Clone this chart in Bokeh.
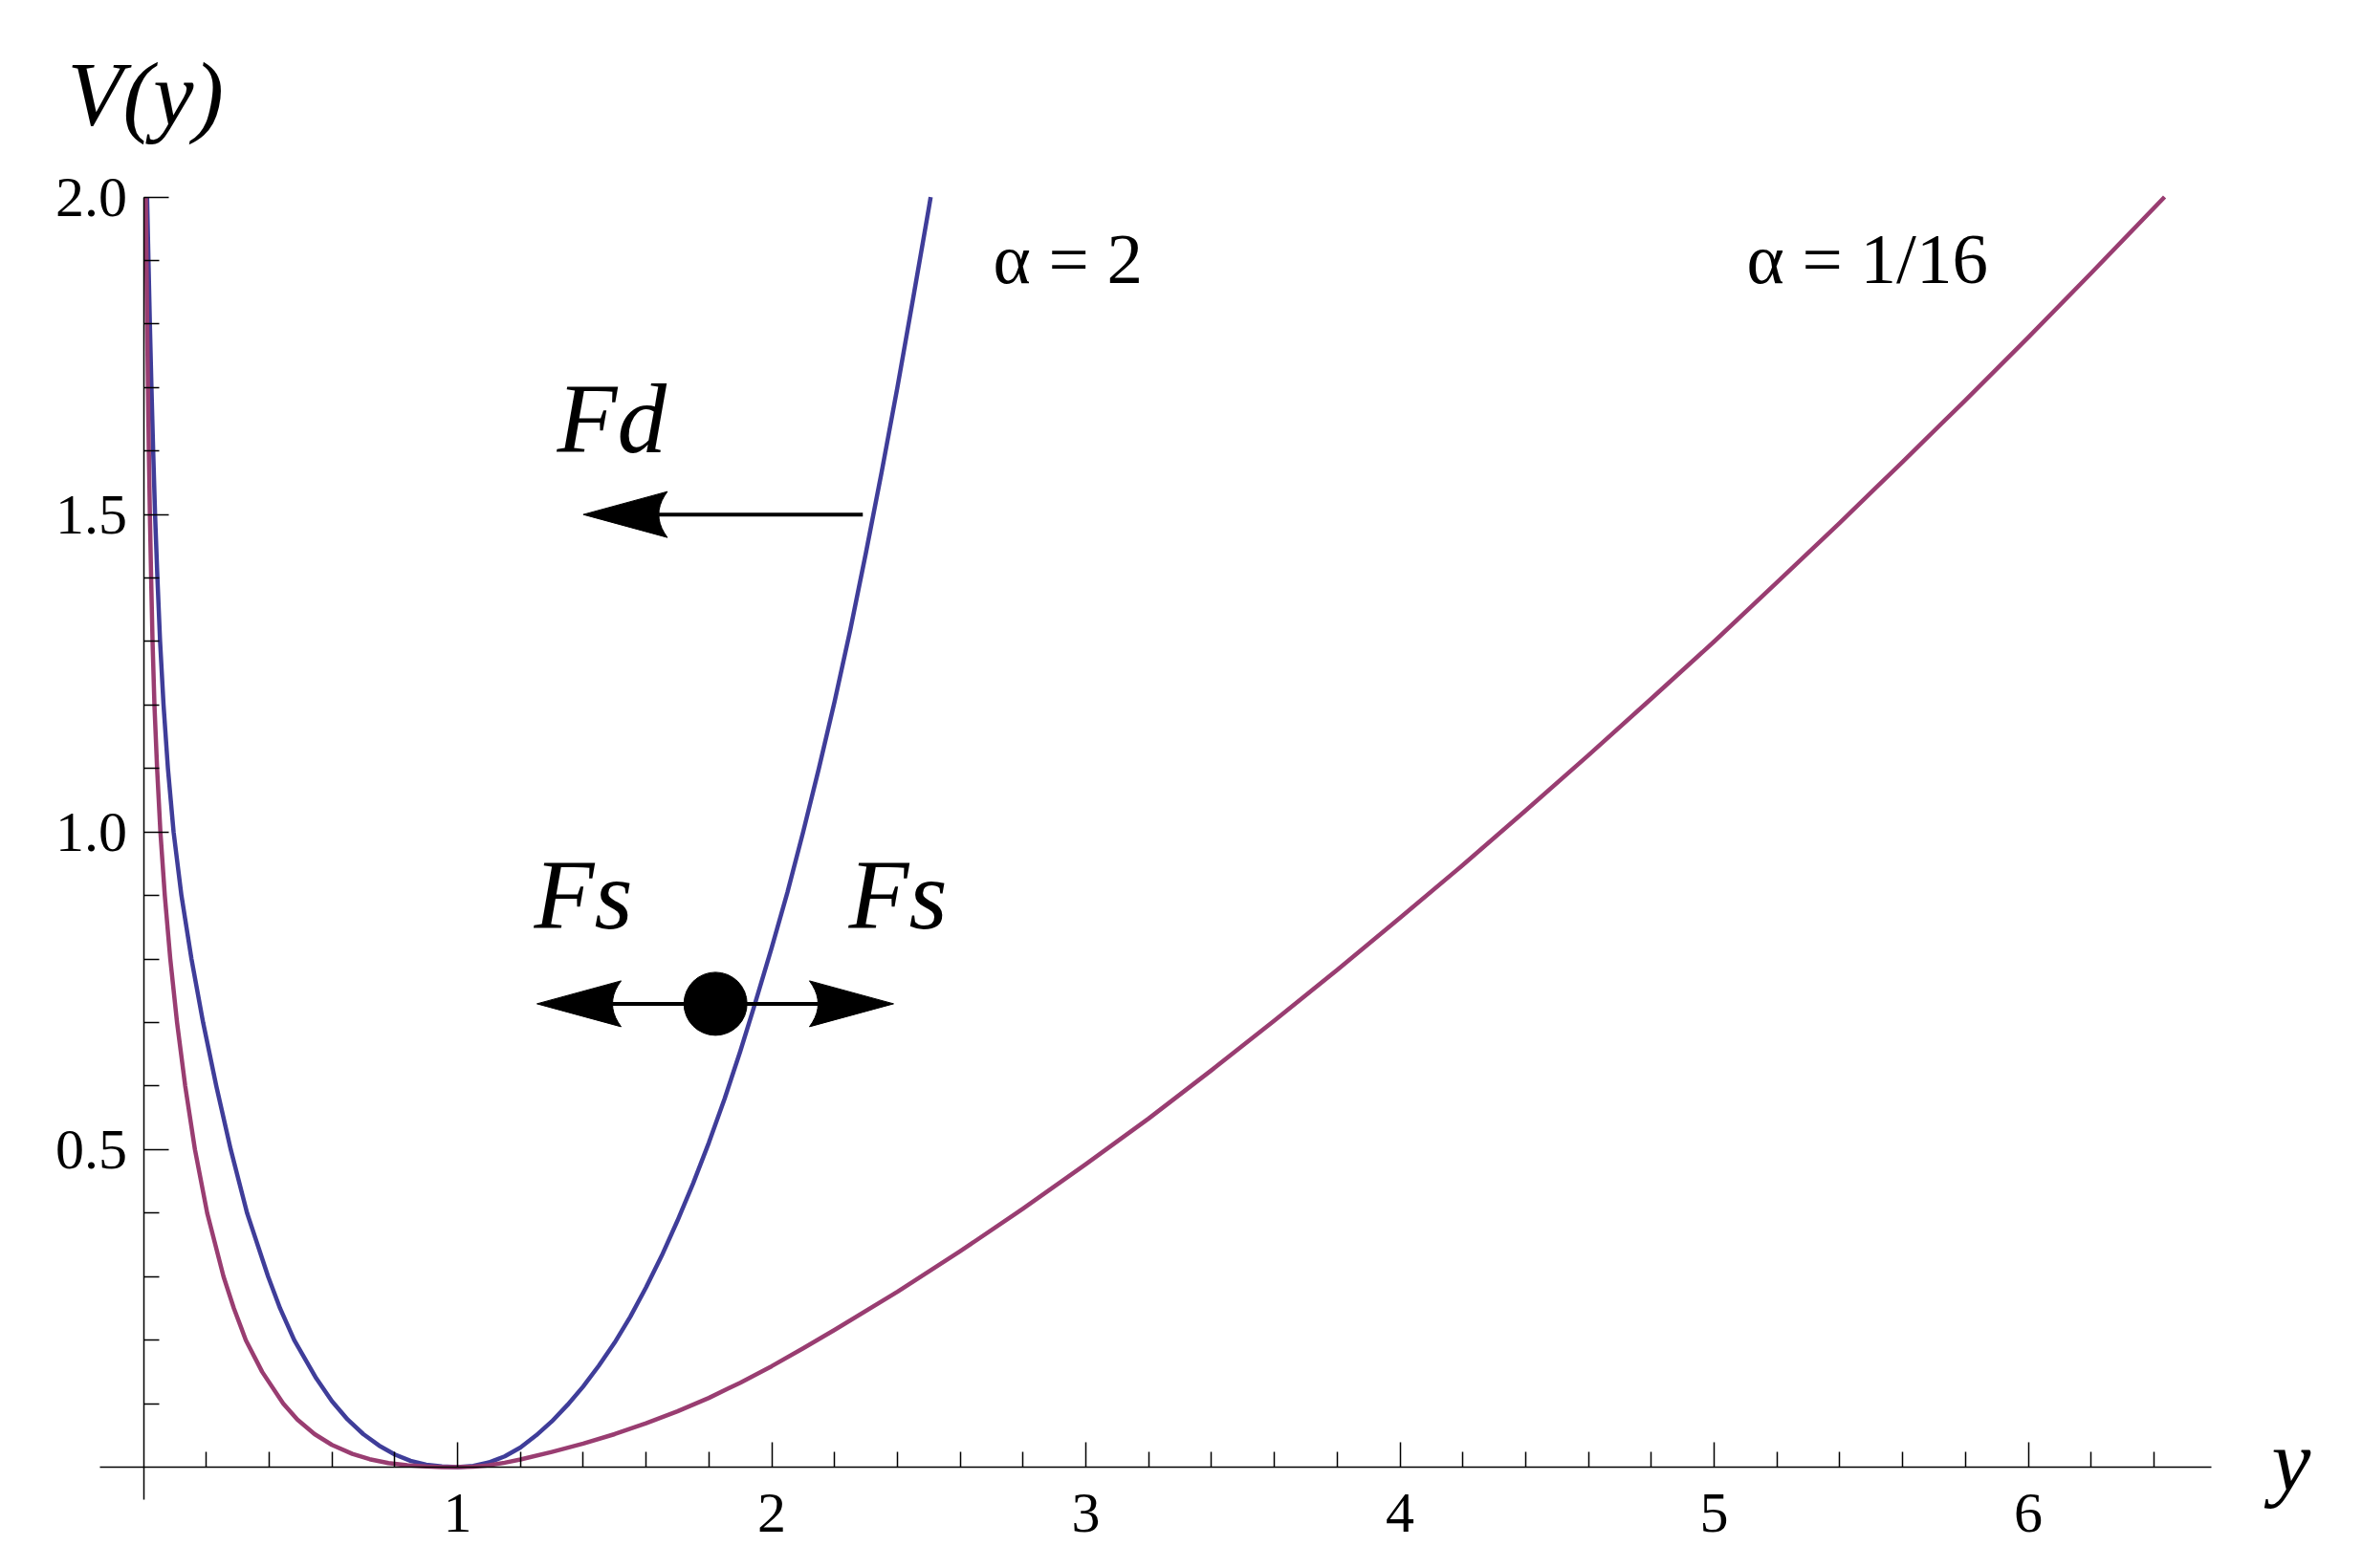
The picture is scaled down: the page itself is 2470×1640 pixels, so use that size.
from bokeh.plotting import figure
from bokeh.models import Range1d, LinearAxis, FixedTicker, PrintfTickFormatter, BasicTickFormatter
from bokeh.core.properties import value
from bokeh.embed import file_html
from bokeh.resources import INLINE

# ---------------- data ----------------
# alpha = 2 (blue)
y_alpha2 = [0.0116, 0.0160, 0.0205, 0.0255, 0.031, 0.037, 0.0445, 0.053, 0.064, 0.078,
            0.096, 0.121, 0.153, 0.190, 0.232, 0.278, 0.330, 0.397, 0.435, 0.480,
            0.550, 0.600, 0.650, 0.700, 0.750, 0.800, 0.850, 0.900, 0.950, 1.000,
            1.050, 1.100, 1.150, 1.200, 1.250, 1.300, 1.350, 1.400, 1.450, 1.500,
            1.550, 1.600, 1.650, 1.700, 1.750, 1.800, 1.850, 1.900, 1.942, 2.000,
            2.050, 2.100, 2.150, 2.200, 2.250, 2.300, 2.350, 2.400, 2.450, 2.500, 2.506]
V_alpha2 = [2.0, 1.9, 1.8, 1.7, 1.6, 1.5, 1.4, 1.3, 1.2, 1.1,
            1.0, 0.9, 0.8, 0.7, 0.6, 0.5, 0.4, 0.3, 0.25, 0.2,
            0.140, 0.104, 0.075, 0.052, 0.034, 0.020, 0.010, 0.004, 0.001, 0.0,
            0.002, 0.0075, 0.017, 0.031, 0.050, 0.072, 0.098, 0.127, 0.160, 0.196,
            0.237, 0.283, 0.333, 0.388, 0.447, 0.511, 0.580, 0.655, 0.722, 0.818,
            0.905, 1.000, 1.100, 1.205, 1.318, 1.440, 1.567, 1.700, 1.840, 1.982, 2.0]

# alpha = 1/16 (purple)
y_alpha116 = [0.0076, 0.0097, 0.0118, 0.0143, 0.0172, 0.0205, 0.0245, 0.029, 0.035, 0.0435,
              0.054, 0.068, 0.0855, 0.107, 0.133, 0.164, 0.203, 0.255, 0.288, 0.326,
              0.378, 0.445, 0.490, 0.545, 0.600, 0.665, 0.720, 0.780, 0.840, 0.900,
              0.950, 1.000, 1.050, 1.100, 1.150, 1.200, 1.300, 1.400, 1.500, 1.600,
              1.700, 1.800, 1.900, 2.000, 2.100, 2.200, 2.400, 2.600, 2.800, 3.000,
              3.200, 3.400, 3.600, 3.800, 4.000, 4.200, 4.400, 4.600, 4.800, 5.000,
              5.200, 5.400, 5.600, 5.800, 6.000, 6.200, 6.434]
V_alpha116 = [2.0, 1.9, 1.8, 1.7, 1.6, 1.5, 1.4, 1.3, 1.2, 1.1,
              1.0, 0.9, 0.8, 0.7, 0.6, 0.5, 0.4, 0.3, 0.25, 0.2,
              0.15, 0.1, 0.075, 0.052, 0.035, 0.021, 0.0125, 0.0065, 0.003, 0.001,
              0.0002, 0.0, 0.0007, 0.003, 0.007, 0.012, 0.024, 0.037, 0.052, 0.069,
              0.088, 0.109, 0.133, 0.159, 0.187, 0.216, 0.276, 0.340, 0.407, 0.477,
              0.549, 0.625, 0.703, 0.783, 0.865, 0.948, 1.034, 1.121, 1.210, 1.300,
              1.393, 1.487, 1.583, 1.680, 1.779, 1.880, 2.0]

# ticks
x_major_ticks = [1, 2, 3, 4, 5, 6]
x_minor_ticks = [0.2, 0.4, 0.6, 0.8, 1.2, 1.4, 1.6, 1.8, 2.2, 2.4, 2.6, 2.8, 3.2, 3.4, 3.6, 3.8,
                 4.2, 4.4, 4.6, 4.8, 5.2, 5.4, 5.6, 5.8, 6.2, 6.4]
v_major_ticks = [0.5, 1.0, 1.5, 2.0]
v_minor_ticks = [0.1, 0.2, 0.3, 0.4, 0.6, 0.7, 0.8, 0.9, 1.1, 1.2, 1.3, 1.4, 1.6, 1.7, 1.8, 1.9]

# annotations (data coordinates; text y = vertical centre of the text)
alpha_labels = ["α = 2", "α = 1/16"]
alpha_label_x = [2.7047, 5.1035]
alpha_label_v = [1.9023, 1.9023]

force_labels = ["Fd", "Fs", "Fs"]
force_label_x = [1.3166, 1.2435, 2.245]
force_label_v = [1.6512, 0.9007, 0.9007]

arrow_tail_x = [2.290, 1.821, 1.821]
arrow_tip_x = [1.400, 1.2527, 2.388]
arrow_v = [1.5, 0.7296, 0.7296]

ball_x = [1.821]
ball_v = [0.7296]

# ---------------- figure ----------------
W, H = 2454, 1624
X0 = -0.4551
X1 = X0 + W / 328.5
Y1 = 2.3094
Y0 = Y1 - H / 664.25
SERIF = "Liberation Serif"

p = figure(width=W, height=H, x_range=Range1d(X0, X1), y_range=Range1d(Y0, Y1),
           output_backend="svg", toolbar_location=None,
           x_axis_location=None, y_axis_location=None, min_border=0, title=None)
p.outline_line_color = None
p.grid.visible = False
p.background_fill_color = "white"
p.border_fill_color = "white"

axis_style = dict(axis_line_color="black", axis_line_width=1.5,
                  major_tick_line_color="black", major_tick_line_width=1.5,
                  minor_tick_line_color="black", minor_tick_line_width=1.5,
                  major_tick_in=26, major_tick_out=0, minor_tick_in=16, minor_tick_out=0,
                  major_label_text_font=SERIF, major_label_text_font_size="60px",
                  major_label_text_color="black")

xax = LinearAxis(fixed_location=0, bounds=(-0.1385, 6.583),
                 ticker=FixedTicker(ticks=x_major_ticks, minor_ticks=x_minor_ticks),
                 formatter=BasicTickFormatter(), major_label_standoff=28, **axis_style)
p.add_layout(xax, "below")

yax = LinearAxis(fixed_location=0, bounds=(-0.0512, 2.0),
                 ticker=FixedTicker(ticks=v_major_ticks, minor_ticks=v_minor_ticks),
                 formatter=PrintfTickFormatter(format="%.1f"), major_label_standoff=17, **axis_style)
p.add_layout(yax, "left")

# curves
p.line(y_alpha2, V_alpha2, line_color="#3F3D99", line_width=4.5, line_join="round")
p.line(y_alpha116, V_alpha116, line_color="#993D71", line_width=4.5, line_join="round")

# arrows
px_x = (X1 - X0) / W
px_y = (Y1 - Y0) / H
HEAD_L, HEAD_W, NOTCH = 88, 24, 9

seg_x0, seg_x1, seg_y = [], [], []
head_xs, head_ys = [], []
for tx, hx, v in zip(arrow_tail_x, arrow_tip_x, arrow_v):
    d = 1 if hx > tx else -1
    back = hx - d * HEAD_L * px_x
    notch = hx - d * (HEAD_L - NOTCH) * px_x
    seg_x0.append(tx)
    seg_x1.append(notch)
    seg_y.append(v)
    p0 = (back, v + HEAD_W * px_y)
    p2 = (back, v - HEAD_W * px_y)
    mid = (notch, v)
    c = (2 * mid[0] - 0.5 * (p0[0] + p2[0]), 2 * mid[1] - 0.5 * (p0[1] + p2[1]))
    xs, ys = [hx], [v]
    n = 10
    for i in range(n + 1):
        t = i / n
        xs.append((1 - t) ** 2 * p0[0] + 2 * (1 - t) * t * c[0] + t ** 2 * p2[0])
        ys.append((1 - t) ** 2 * p0[1] + 2 * (1 - t) * t * c[1] + t ** 2 * p2[1])
    head_xs.append(xs)
    head_ys.append(ys)

p.segment(x0=seg_x0, y0=seg_y, x1=seg_x1, y1=seg_y, line_color="black", line_width=4)
p.patches(head_xs, head_ys, fill_color="black", line_color="black", line_width=1)
p.scatter(ball_x, ball_v, size=66, marker="circle", fill_color="black", line_color="black")

# labels
p.text(x=alpha_label_x, y=alpha_label_v, text=alpha_labels, text_font=value(SERIF),
       text_font_size="75px", text_color="black", text_align="left", text_baseline="middle")
p.text(x=force_label_x, y=force_label_v, text=force_labels, text_font=value(SERIF),
       text_font_style="italic", text_font_size="103px", text_color="black",
       text_align="left", text_baseline="middle")
p.text(x=[-0.242], y=[2.1618], text=["V(y)"], text_font=value(SERIF), text_font_style="italic",
       text_font_size="95px", text_color="black", text_align="left", text_baseline="middle")
p.text(x=[6.775], y=[0.0105], text=["y"], text_font=value(SERIF), text_font_style="italic",
       text_font_size="92px", text_color="black", text_align="left", text_baseline="middle")

open("out.html", "w").write(file_html(p, INLINE))
